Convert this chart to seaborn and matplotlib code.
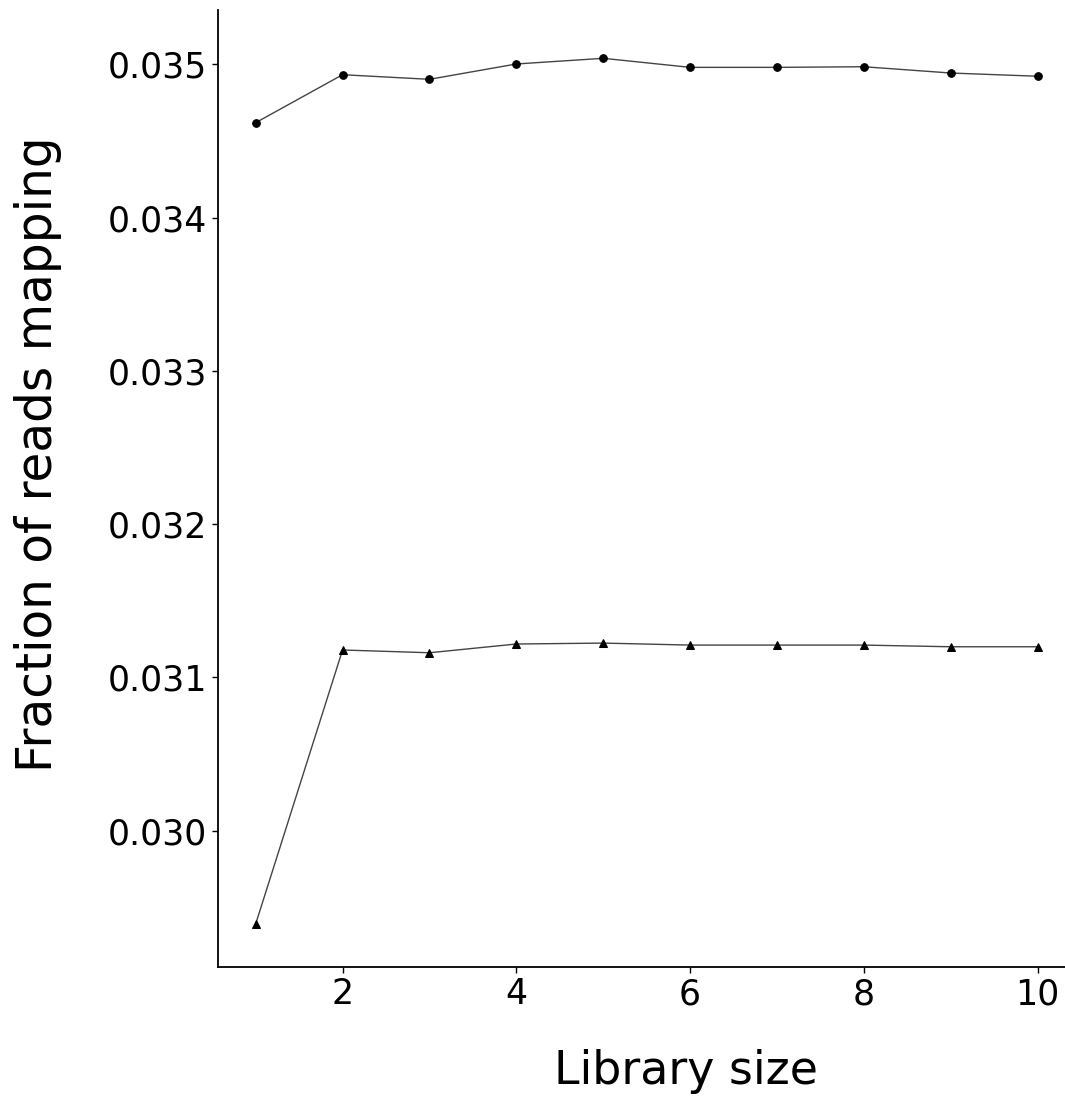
import numpy as np
import pandas as pd
import matplotlib
matplotlib.use("Agg")
import matplotlib.pyplot as plt
import seaborn as sns

# library sizes and fraction of reads mapping for the two runs
library_size = [1, 2, 3, 4, 5, 6, 7, 8, 9, 10]
frac_circle = [0.034619, 0.034932, 0.034902, 0.035002, 0.035039,
               0.034980, 0.034980, 0.034984, 0.034943, 0.034922]
frac_triangle = [0.029391, 0.031179, 0.031161, 0.031218, 0.031224,
                 0.031211, 0.031211, 0.031211, 0.031200, 0.031200]
y_ticks = [0.030, 0.031, 0.032, 0.033, 0.034, 0.035]
x_ticks = [2, 4, 6, 8, 10]

sns.set_style("ticks")
plt.rcParams['font.family'] = ['DejaVu Sans']

fig = plt.figure(figsize=(10.65, 11.02), dpi=100)
ax = fig.add_axes([0.2044, 0.1228, 0.7956, 0.8681])

sns.lineplot(x=library_size, y=frac_circle, ax=ax, color="#444444", linewidth=1,
             marker="o", markersize=5.5, markerfacecolor="black", markeredgecolor="black")
sns.lineplot(x=library_size, y=frac_triangle, ax=ax, color="#444444", linewidth=1,
             marker="^", markersize=6, markerfacecolor="black", markeredgecolor="black")

ax.set_xlim(0.563, 10.314)
ax.set_ylim(0.029113, 0.035354)
ax.set_xticks(x_ticks)
ax.set_yticks(y_ticks)
ax.set_yticklabels([f"{t:.3f}" for t in y_ticks])
ax.tick_params(labelsize=25, width=1, length=4, color="black", labelcolor="black")

ax.set_xlabel("Library size", fontsize=33, color="black", va="center")
ax.set_ylabel("Fraction of reads mapping", fontsize=35, color="black", va="center")
ax.xaxis.set_label_coords(0.5527, -0.1097)
ax.yaxis.set_label_coords(-0.2121, 0.536)

sns.despine(ax=ax)
for s in ["left", "bottom"]:
    ax.spines[s].set_linewidth(1.3)
    ax.spines[s].set_color("black")

fig.savefig("out.png", dpi=100)
